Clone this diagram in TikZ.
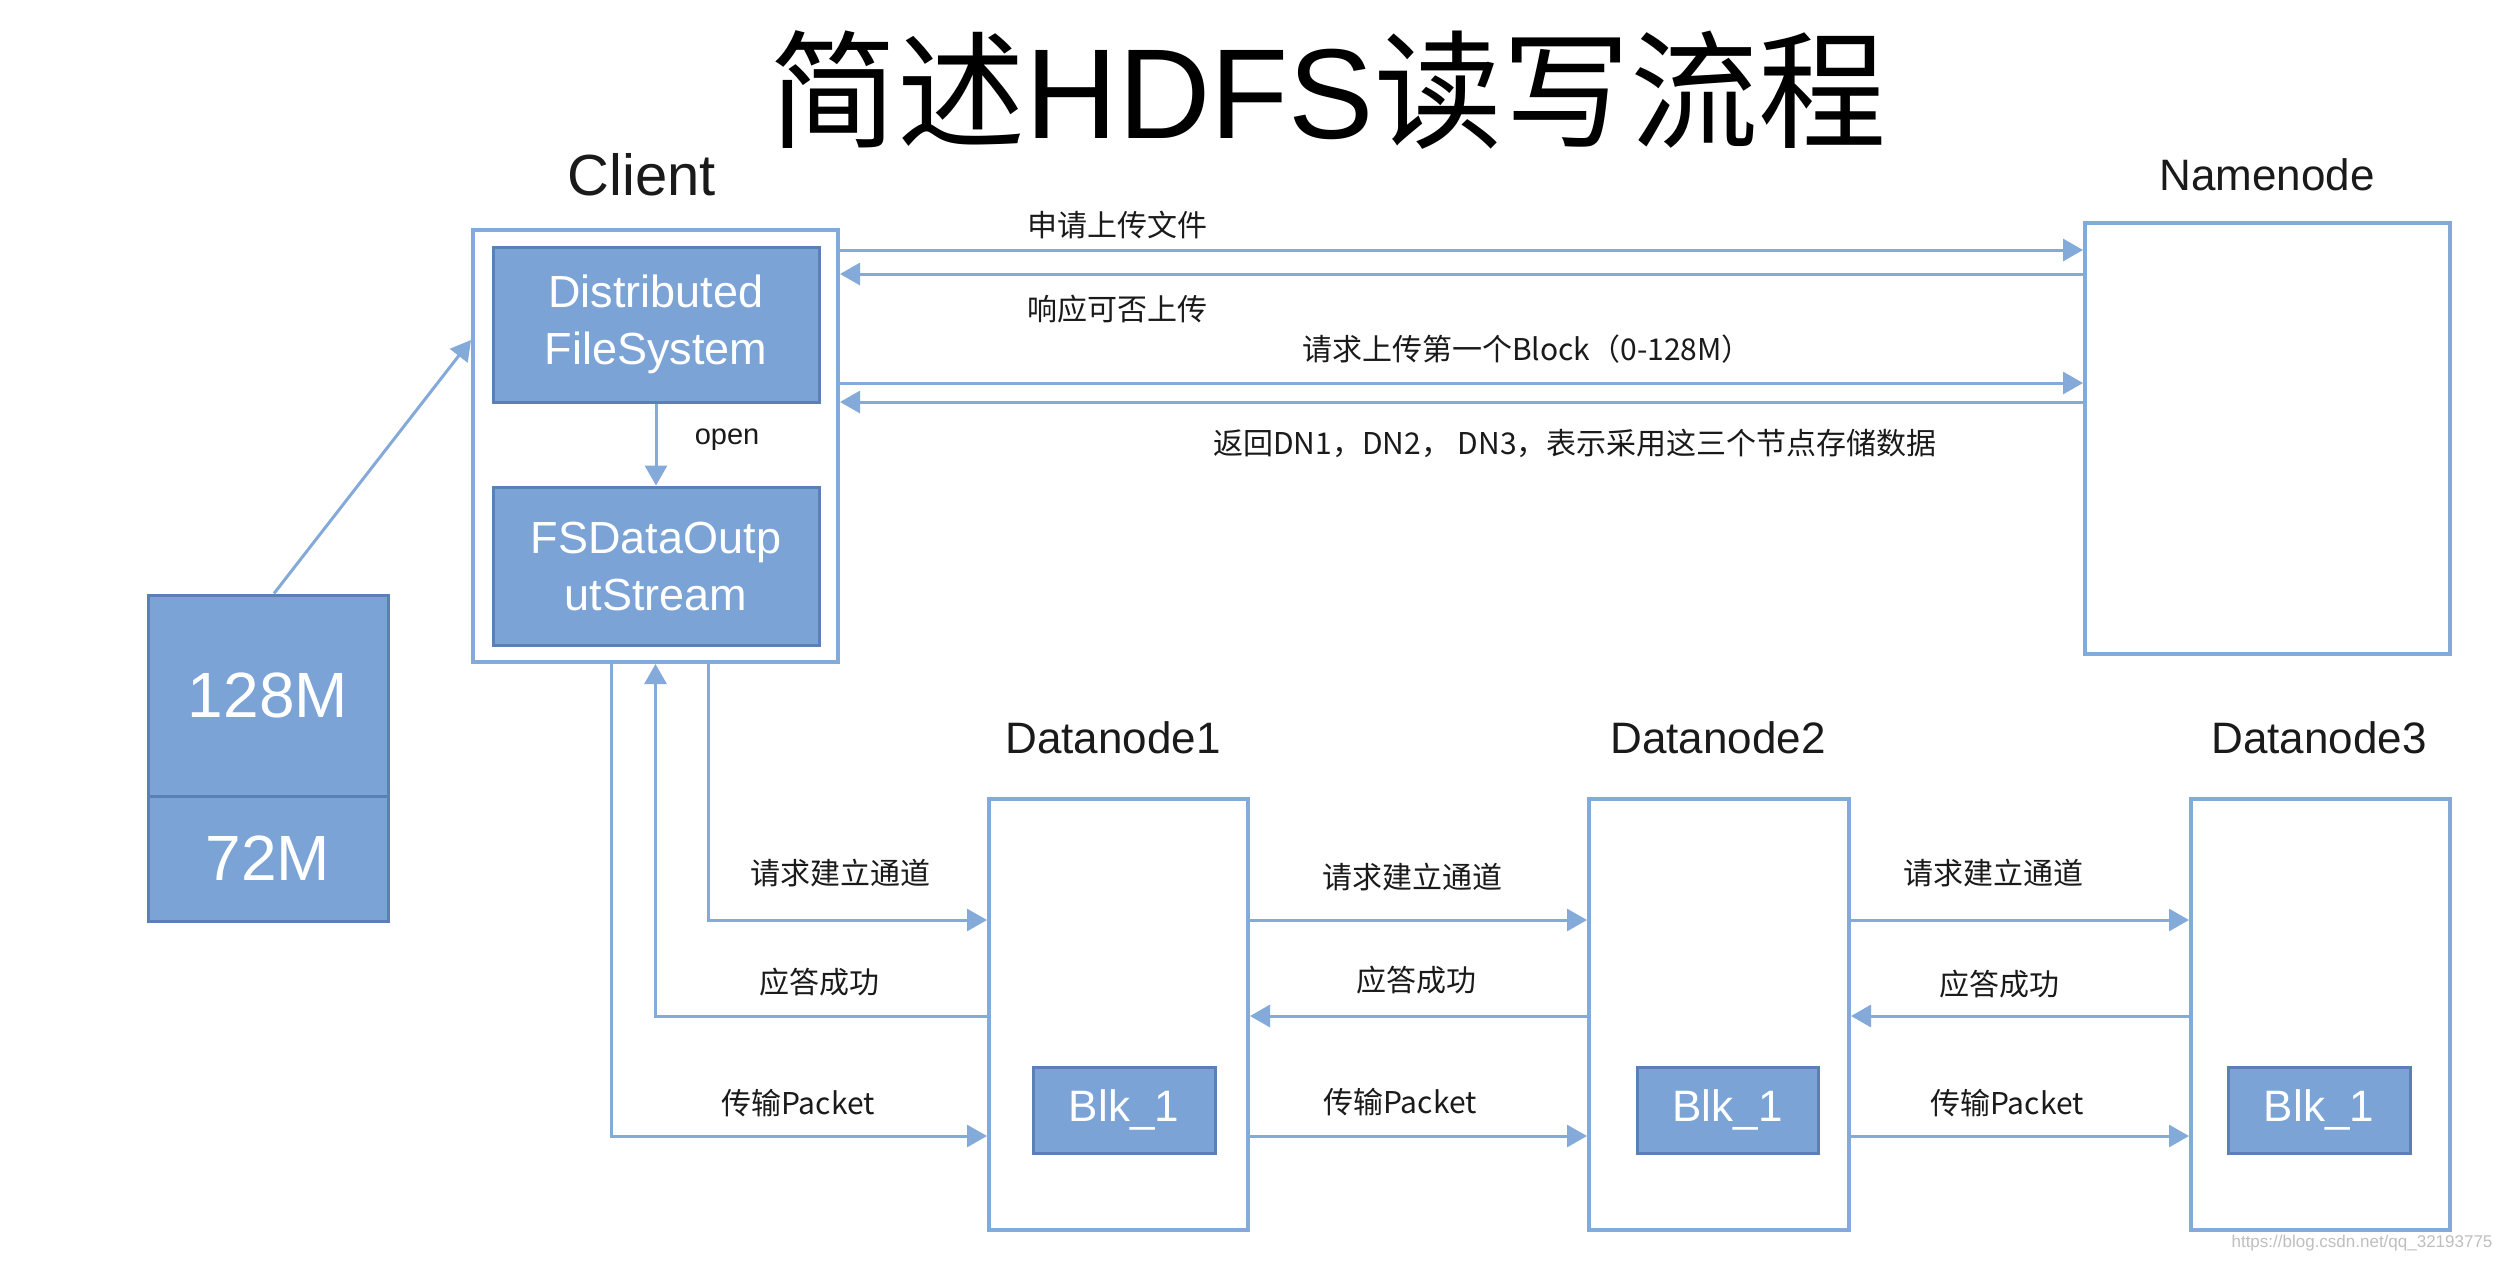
\documentclass[tikz,border=0pt]{standalone}
\usepackage{fontspec}
\setmainfont{Liberation Sans}
\newfontfamily\cjk{Noto Sans CJK SC}
\usetikzlibrary{arrows.meta,fit}
\definecolor{bfill}{HTML}{7BA3D6}
\definecolor{bdraw}{HTML}{5A80B5}
\definecolor{lblue}{HTML}{84AADA}
\definecolor{txt}{HTML}{1A1A1A}
\begin{document}
\begin{tikzpicture}[x=0.5pt,y=-0.5pt,
  filled/.style={draw=bdraw,fill=bfill,line width=1.5pt,inner sep=0pt},
  intext/.style={text=white,align=center,inner sep=0pt},
  frame/.style={draw=lblue,line width=2pt,inner sep=0pt},
  arr/.style={draw=lblue,line width=1.5pt,-{Triangle[length=10pt,width=11pt]}},
  lbl/.style={text=txt,inner sep=0pt,font=\cjk\fontsize{15}{18}\selectfont},
  hdr/.style={text=txt,inner sep=0pt,font=\fontsize{22}{26}\selectfont},
]
\useasboundingbox[fill=white] (0,0) rectangle (2494,1260);

% title
\node[text=black,inner sep=0pt,font=\fontsize{64}{70}\selectfont] (title) at (1328,90) {{\cjk 简述}HDFS{\cjk 读写流程}};

% headers
\node[text=txt,inner sep=0pt,font=\fontsize{29}{34}\selectfont] (clientlbl) at (642,175) {Client};
\node[hdr] (namelbl) at (2267,175) {Namenode};
\node[hdr] (dn1lbl) at (1113,738) {Datanode1};
\node[hdr] (dn2lbl) at (1718,738) {Datanode2};
\node[hdr] (dn3lbl) at (2319,738) {Datanode3};

% client
\node[frame,fit={(473,230) (838,662)}] (client) {};
\node[filled,fit={(493,247) (819,402)},
  label={[intext,font=\fontsize{22.5}{28.5}\selectfont]center:Distributed\\FileSystem}] (dfs) {};
\node[filled,fit={(493,487) (819,645)},
  label={[intext,font=\fontsize{22.5}{28.5}\selectfont]center:FSDataOutp\\utStream}] (fsd) {};

% namenode
\node[frame,fit={(2085,223) (2450,654)}] (namenode) {};

% file blocks
\node[filled,fit={(148,595) (388,796)},
  label={[intext,font=\fontsize{32}{36}\selectfont]center:128M}] (b128) {};
\node[filled,fit={(148,796) (388,921)},
  label={[intext,font=\fontsize{32}{36}\selectfont]center:72M}] (b72) {};

% datanodes
\node[frame,fit={(989,799) (1248,1230)}] (dn1) {};
\node[frame,fit={(1589,799) (1849,1230)}] (dn2) {};
\node[frame,fit={(2191,799) (2450,1230)}] (dn3) {};
\node[filled,fit={(1033,1067) (1215,1153)},
  label={[intext,font=\fontsize{22}{26}\selectfont]center:Blk\_1}] (blk1) {};
\node[filled,fit={(1637,1067) (1818,1153)},
  label={[intext,font=\fontsize{22}{26}\selectfont]center:Blk\_1}] (blk2) {};
\node[filled,fit={(2228,1067) (2410,1153)},
  label={[intext,font=\fontsize{22}{26}\selectfont]center:Blk\_1}] (blk3) {};

% helper coordinates
\coordinate (ya) at (0,250);
\coordinate (yb) at (0,274);
\coordinate (yc) at (0,383);
\coordinate (yd) at (0,402);
\coordinate (ye) at (0,340);
\coordinate (sx) at (274,0);
\coordinate (xq) at (708,0);
\coordinate (xp) at (611,0);
\coordinate (yr1) at (0,920);
\coordinate (yr2) at (0,1016);
\coordinate (yr3) at (0,1136);

% open
\draw[arr] (dfs.south) -- (fsd.north);
\node[text=txt,inner sep=0pt,font=\fontsize{14.5}{17}\selectfont] (openlbl) at (727,440) {open};

% file to client
\draw[arr] (b128.north -| sx) -- (client.west |- ye);

% client <-> namenode
\draw[arr] (client.east |- ya) -- (namenode.west |- ya);
\draw[arr] (namenode.west |- yb) -- (client.east |- yb);
\draw[arr] (client.east |- yc) -- (namenode.west |- yc);
\draw[arr] (namenode.west |- yd) -- (client.east |- yd);
\node[lbl] (l1) at (1117,225) {申请上传文件};
\node[lbl] (l2) at (1117,309) {响应可否上传};
\node[lbl] (l3) at (1527,349) {请求上传第一个Block（0-128M）};
\node[lbl] (l4) at (1575,443) {返回DN1，DN2， DN3，表示采用这三个节点存储数据};

% client <-> dn1
\draw[arr] (client.south -| xq) |- (dn1.west |- yr1);
\draw[arr] (dn1.west |- yr2) -| (client.south);
\draw[arr] (client.south -| xp) |- (dn1.west |- yr3);
\node[lbl] (c1) at (840,873) {请求建立通道};
\node[lbl] (c2) at (819,982) {应答成功};
\node[lbl] (c3) at (798,1103) {传输Packet};

% dn1 <-> dn2
\draw[arr] (dn1.east |- yr1) -- (dn2.west |- yr1);
\draw[arr] (dn2.west |- yr2) -- (dn1.east |- yr2);
\draw[arr] (dn1.east |- yr3) -- (dn2.west |- yr3);
\node[lbl] (d1) at (1412,877) {请求建立通道};
\node[lbl] (d2) at (1416,980) {应答成功};
\node[lbl] (d3) at (1400,1102) {传输Packet};

% dn2 <-> dn3
\draw[arr] (dn2.east |- yr1) -- (dn3.west |- yr1);
\draw[arr] (dn3.west |- yr2) -- (dn2.east |- yr2);
\draw[arr] (dn2.east |- yr3) -- (dn3.west |- yr3);
\node[lbl] (e1) at (1993,873) {请求建立通道};
\node[lbl] (e2) at (1999,984) {应答成功};
\node[lbl] (e3) at (2007,1103) {传输Packet};

% watermark
\node[text=black!25,inner sep=0pt,font=\fontsize{8.5}{10}\selectfont] (wm) at (2362,1243) {https://blog.csdn.net/qq\_32193775};
\end{tikzpicture}
\end{document}
